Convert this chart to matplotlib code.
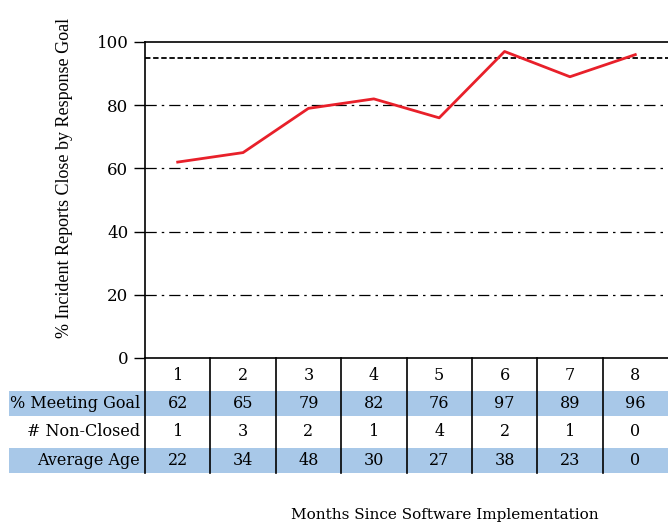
import numpy as np
import matplotlib.pyplot as plt

# Data
months = [1, 2, 3, 4, 5, 6, 7, 8]
pct_meeting_goal = [62, 65, 79, 82, 76, 97, 89, 96]
non_closed = [1, 3, 2, 1, 4, 2, 1, 0]
average_age = [22, 34, 48, 30, 27, 38, 23, 0]
goal = 95
row_labels = ['% Meeting Goal', '# Non-Closed', 'Average Age']

W, H = 668, 525
fig = plt.figure(figsize=(W / 100, H / 100), dpi=100)

serif = 'DejaVu Serif'
blue = '#a8c8e8'

# main plot area
ax = fig.add_axes([145 / W, (H - 358) / H, 523 / W, 316 / H])
ax.set_xlim(0.5, 8.5)
ax.set_ylim(0, 100)
ax.plot(months, pct_meeting_goal, color='#e8202a', lw=2, zorder=3)
for v in [20, 40, 60, 80]:
    ax.axhline(v, color='black', lw=0.9, dashes=(9, 4, 2, 4))
ax.axhline(goal, color='black', lw=1.3, dashes=(3, 1.5))
ax.set_yticks([0, 20, 40, 60, 80, 100])
ax.tick_params(axis='y', length=8, width=1, labelsize=12, pad=4)
for t in ax.get_yticklabels():
    t.set_family(serif)
ax.set_xticks([])
ax.spines['right'].set_visible(False)
for s in ['left', 'top', 'bottom']:
    ax.spines[s].set_linewidth(1.2)
ax.set_ylabel('% Incident Reports Close by Response Goal', family='Liberation Serif',
              fontsize=13)
ax.yaxis.set_label_coords(-0.137, 0.57)

# table under the plot, y in pixel units
ax_t = fig.add_axes([145 / W, (H - 473) / H, 523 / W, 115 / H])
ax_t.set_xlim(0.5, 8.5)
ax_t.set_ylim(473, 358)
ax_t.axis('off')
px = 523 / 8
left_edge = 0.5 - (145 - 9) / px

rows_y = [(391, 416), (417, 446), (448, 473)]
for i, (y0, y1) in enumerate(rows_y):
    if i != 1:
        ax_t.fill_between([left_edge, 8.5], y0, y1, color=blue, lw=0, clip_on=False, zorder=0)

for b in np.arange(1.5, 8.5, 1):
    ax_t.plot([b, b], [358, 473], color='black', lw=1.2, clip_on=False)
ax_t.plot([0.5, 0.5], [358, 473], color='black', lw=1.2, clip_on=False)

row_vals = [pct_meeting_goal, non_closed, average_age]
for m in months:
    ax_t.text(m, 375, str(m), ha='center', va='center', family=serif, fontsize=11.5)
for (y0, y1), lab, vals in zip(rows_y, row_labels, row_vals):
    yc = (y0 + y1) / 2
    ax_t.text(0.5 - 5 / px, yc, lab, ha='right', va='center', family=serif, fontsize=11.5,
              clip_on=False)
    for m, v in zip(months, vals):
        ax_t.text(m, yc, str(v), ha='center', va='center', family=serif, fontsize=11.5)

fig.text(445 / W, 1 - 515 / H, 'Months Since Software Implementation', ha='center',
         va='center', family=serif, fontsize=11)

fig.savefig('out.png', dpi=100)
